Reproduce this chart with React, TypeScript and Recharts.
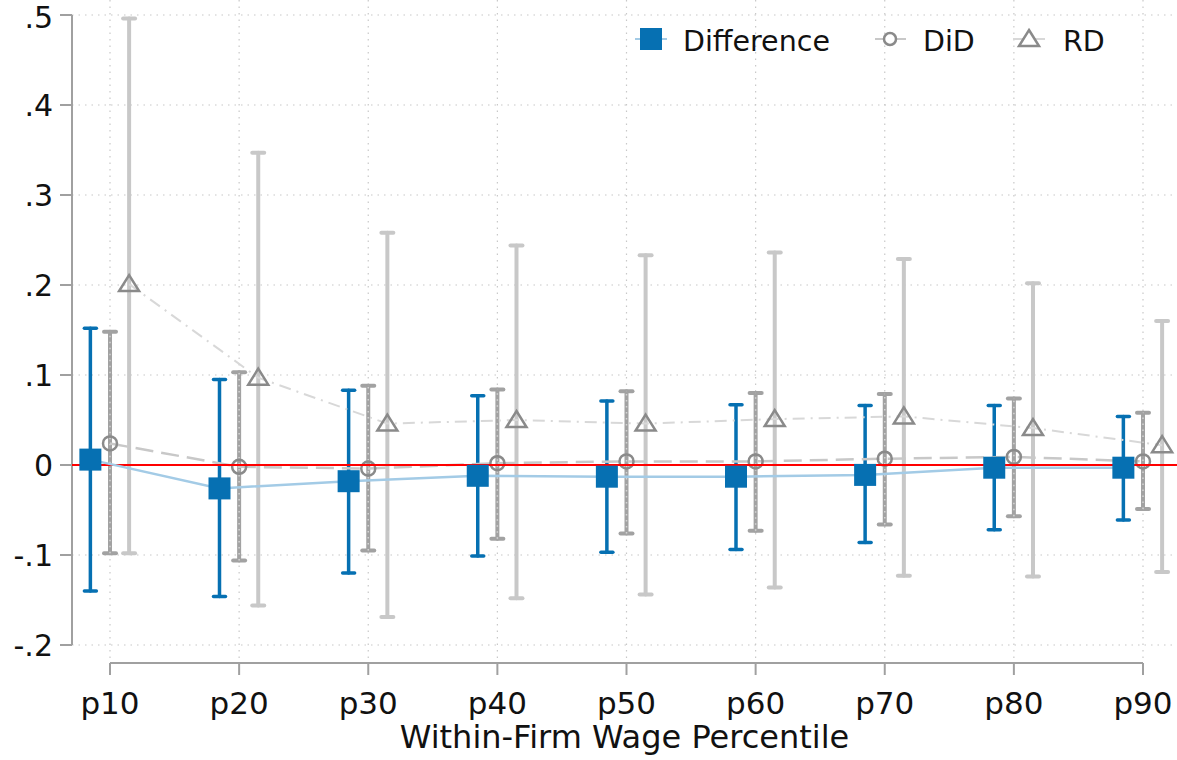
import React from 'react';
import { ScatterChart, Scatter, XAxis, YAxis, CartesianGrid, ErrorBar, ReferenceLine, Legend } from 'recharts';

const categories = ['p10', 'p20', 'p30', 'p40', 'p50', 'p60', 'p70', 'p80', 'p90'];
const xTicks = [1, 2, 3, 4, 5, 6, 7, 8, 9];
const yTicks = [-0.2, -0.1, 0, 0.1, 0.2, 0.3, 0.4, 0.5];
const yTickLabels = ['-.2', '-.1', '0', '.1', '.2', '.3', '.4', '.5'];

const diffEst = [0.006, -0.026, -0.018, -0.012, -0.013, -0.013, -0.011, -0.003, -0.003];
const diffLo = [-0.140, -0.146, -0.120, -0.101, -0.097, -0.094, -0.086, -0.072, -0.061];
const diffHi = [0.152, 0.095, 0.083, 0.077, 0.071, 0.067, 0.066, 0.066, 0.054];

const didEst = [0.024, -0.002, -0.004, 0.002, 0.004, 0.004, 0.007, 0.009, 0.004];
const didLo = [-0.098, -0.106, -0.095, -0.082, -0.076, -0.073, -0.066, -0.057, -0.049];
const didHi = [0.148, 0.103, 0.088, 0.084, 0.082, 0.080, 0.079, 0.074, 0.058];

const rdEst = [0.201, 0.097, 0.046, 0.050, 0.046, 0.051, 0.054, 0.041, 0.022];
const rdLo = [-0.098, -0.156, -0.169, -0.148, -0.144, -0.136, -0.123, -0.124, -0.119];
const rdHi = [0.496, 0.347, 0.258, 0.244, 0.233, 0.236, 0.229, 0.202, 0.160];

const X_MIN = 0.7057;
const X_MAX = 9.2633;
const Y_MIN = -0.22;
const Y_MAX = 0.51667;
const OFF_DIFF = -0.152;
const OFF_RD = 0.148;

const BLUE = '#0670b2';
const LIGHT_BLUE = '#a3cbe6';
const AXIS = '#a0a0a0';
const FONT = 'DejaVu Sans';

const build = (est: number[], lo: number[], hi: number[], off: number) =>
  est.map((v, i) => ({ x: i + 1 + off, y: v, err: [v - lo[i], hi[i] - v] }));

const diffData = build(diffEst, diffLo, diffHi, OFF_DIFF);
const didData = build(didEst, didLo, didHi, 0);
const rdData = build(rdEst, rdLo, rdHi, OFF_RD);
const zeroLine = [{ x: X_MIN, y: 0 }, { x: X_MAX, y: 0 }];

const applyScale = (axis: any, v: number, fallback: () => number) => {
  const s = axis && axis.scale;
  if (typeof s === 'function') return s(v);
  if (s && typeof s.map === 'function') return s.map(v);
  if (s && typeof s.apply === 'function') return s.apply(v);
  return fallback();
};

const hGen = ({ yAxis, offset }: any) =>
  yTicks.map((t) =>
    applyScale(yAxis, t, () => offset.top + ((Y_MAX - t) / (Y_MAX - Y_MIN)) * offset.height)
  );
const vGen = ({ xAxis, offset }: any) =>
  xTicks.map((t) =>
    applyScale(xAxis, t, () => offset.left + ((t - X_MIN) / (X_MAX - X_MIN)) * offset.width)
  );

const SquareShape = (p: any) => (
  <rect x={p.cx - 11} y={p.cy - 11} width={22} height={22} fill={BLUE} />
);
const CircleShape = (p: any) => (
  <circle cx={p.cx} cy={p.cy} r={7} fill="none" stroke="#8a8a8a" strokeWidth={2.5} />
);
const TriangleShape = (p: any) => (
  <polygon
    points={`${p.cx},${p.cy - 9} ${p.cx + 10},${p.cy + 7} ${p.cx - 10},${p.cy + 7}`}
    fill="none"
    stroke="#8a8a8a"
    strokeWidth={2.5}
    strokeLinejoin="miter"
  />
);
const NoShape = () => <g />;

const LegendContent = () => (
  <svg width={560} height={70} style={{ display: 'block' }}>
    <line x1={15} x2={47} y1={34} y2={34} stroke={LIGHT_BLUE} strokeWidth={2} />
    <rect x={20} y={23} width={22} height={22} fill={BLUE} />
    <text x={63} y={46} fontSize={28.5} fontFamily={FONT} fill="#111">Difference</text>
    <line x1={255} x2={286} y1={34} y2={34} stroke="#c8c8c8" strokeWidth={2} />
    <circle cx={270} cy={34} r={6} fill="#fff" stroke="#8a8a8a" strokeWidth={2.5} />
    <text x={303} y={46} fontSize={28.5} fontFamily={FONT} fill="#111">DiD</text>
    <line x1={393} x2={425} y1={34} y2={34} stroke="#d8d8d8" strokeWidth={2} />
    <polygon points="409,25 419,41 399,41" fill="#fff" stroke="#8a8a8a" strokeWidth={2.5} />
    <text x={443} y={46} fontSize={28.5} fontFamily={FONT} fill="#111">RD</text>
  </svg>
);

export default function App() {
  return (
    <div style={{ position: 'absolute', left: 0, top: 0, width: 1177, height: 760, background: '#fff' }}>
      <ScatterChart width={1177} height={760} margin={{ top: 0, right: 0, bottom: 0, left: 0 }}>
        <CartesianGrid
          stroke="#c8c8c8"
          strokeDasharray="1.5 5"
          strokeWidth={1.2}
          horizontalCoordinatesGenerator={hGen}
          verticalCoordinatesGenerator={vGen}
        />
        <XAxis
          dataKey="x"
          type="number"
          domain={[X_MIN, X_MAX]}
          ticks={xTicks}
          tickFormatter={(v: number) => categories[Math.round(v) - 1]}
          axisLine={false}
          tickLine={{ stroke: AXIS, strokeWidth: 2 }}
          tickSize={12}
          tickMargin={17}
          height={97}
          allowDataOverflow
          tick={{ fontSize: 31, fill: '#111', fontFamily: FONT }}
          label={{ value: 'Within-Firm Wage Percentile', position: 'insideBottom', offset: 12, style: { fontSize: 32, fill: '#111', fontFamily: FONT } }}
        />
        <YAxis
          dataKey="y"
          type="number"
          domain={[Y_MIN, Y_MAX]}
          ticks={yTicks}
          tickFormatter={(v: number) => yTickLabels[yTicks.findIndex((t) => Math.abs(t - v) < 1e-9)]}
          axisLine={false}
          tickLine={{ stroke: AXIS, strokeWidth: 2 }}
          tickSize={12}
          tickMargin={7}
          width={72}
          allowDataOverflow
          tick={{ fontSize: 30, fill: '#111', fontFamily: FONT }}
        />
        <ReferenceLine
          segment={[{ x: X_MIN, y: -0.2 }, { x: X_MIN, y: 0.5 }]}
          stroke={AXIS}
          strokeWidth={2}
          ifOverflow="visible"
        />
        <ReferenceLine
          segment={[{ x: 1, y: Y_MIN }, { x: 9, y: Y_MIN }]}
          stroke={AXIS}
          strokeWidth={2}
          ifOverflow="visible"
        />
        <Scatter
          data={rdData}
          isAnimationActive={false}
          shape={TriangleShape}
          line={{ stroke: '#d8d8d8', strokeWidth: 2, strokeDasharray: '12 6 2 6' }}
          lineType="joint"
        >
          <ErrorBar dataKey="err" direction="y" width={6} stroke="#c8c8c8" strokeWidth={4} strokeLinecap="round" />
        </Scatter>
        <Scatter
          data={didData}
          isAnimationActive={false}
          shape={CircleShape}
          line={{ stroke: '#c8c8c8', strokeWidth: 2.5, strokeDasharray: '18 8' }}
          lineType="joint"
        >
          <ErrorBar dataKey="err" direction="y" width={6} stroke="#a2a2a2" strokeWidth={4} strokeLinecap="round" />
          <ErrorBar dataKey="err" direction="y" width={0} stroke="#d4d4d4" strokeWidth={1.5} strokeDasharray="1.5 4.5" />
        </Scatter>
        <Scatter
          data={zeroLine}
          isAnimationActive={false}
          shape={NoShape}
          line={{ stroke: '#ff0000', strokeWidth: 2 }}
          lineType="joint"
        />
        <Scatter
          data={diffData}
          isAnimationActive={false}
          shape={SquareShape}
          line={{ stroke: LIGHT_BLUE, strokeWidth: 2.5 }}
          lineType="joint"
        >
          <ErrorBar dataKey="err" direction="y" width={6} stroke={BLUE} strokeWidth={3.5} strokeLinecap="round" />
        </Scatter>
        <Legend
          layout="horizontal"
          verticalAlign="middle"
          align="center"
          content={LegendContent}
          wrapperStyle={{ position: 'absolute', top: 5, left: 620, width: 560, height: 70 }}
        />
      </ScatterChart>
    </div>
  );
}
